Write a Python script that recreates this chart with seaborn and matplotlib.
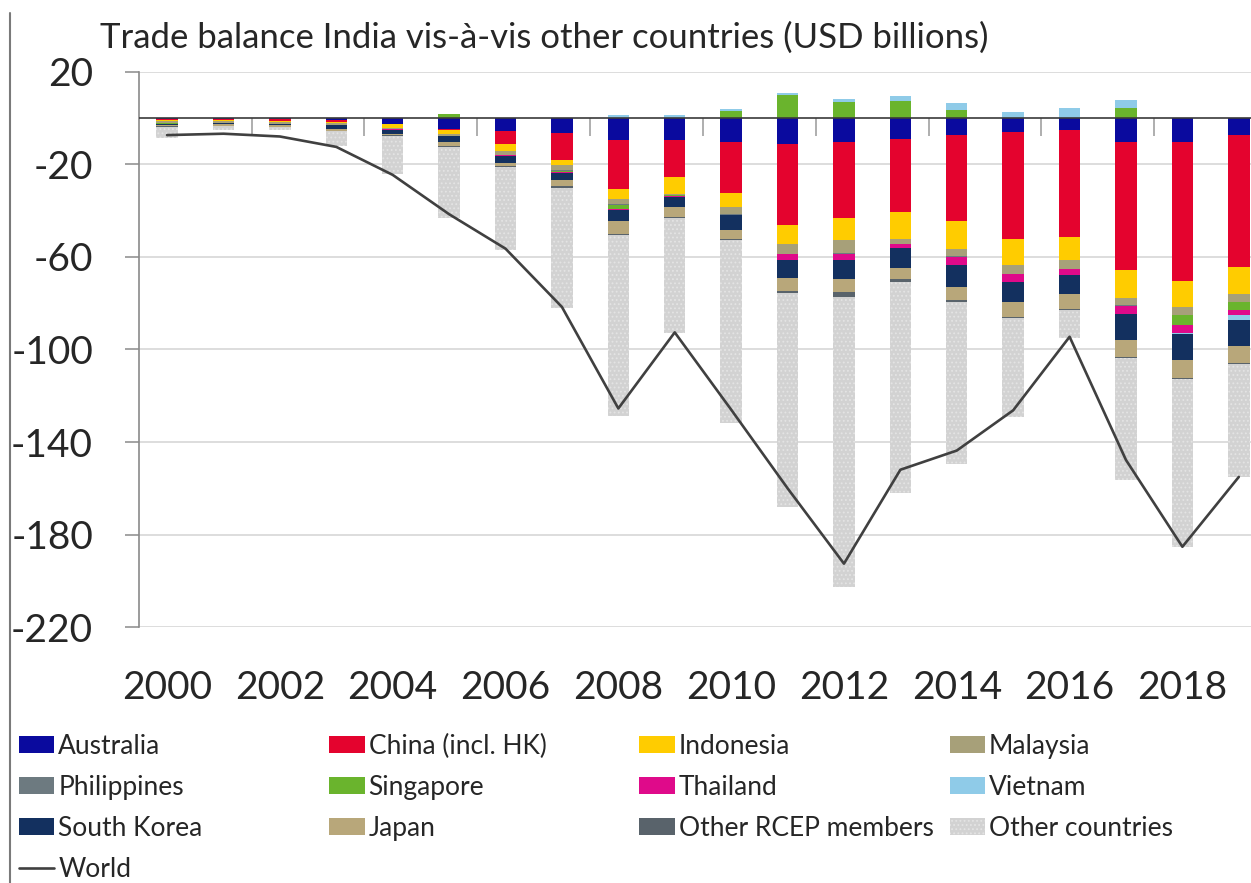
import numpy as np
import matplotlib
matplotlib.use("Agg")
import matplotlib.pyplot as plt
from matplotlib.patches import Patch
from matplotlib.lines import Line2D
import seaborn as sns

# Trade balance of India with partner countries, USD billions
years = list(range(2000, 2020))

australia = [-0.4, -0.3, -0.4, -0.8, -2.3, -4.5, -5.5, -6.6, -9.4, -9.4,
             -10.3, -11.0, -10.3, -8.8, -7.4, -5.9, -5.3, -10.3, -10.3, -7.4]
china = [-0.3, -0.5, -0.6, -0.8, -0.3, -0.4, -5.8, -11.6, -21.0, -16.0,
         -22.0, -35.3, -32.8, -31.7, -37.2, -46.2, -46.1, -55.2, -60.3, -57.0]
indonesia = [-0.5, -0.4, -0.5, -0.6, -1.6, -1.8, -2.9, -2.1, -4.4, -7.2,
             -6.1, -8.0, -9.7, -11.6, -11.8, -11.5, -10.1, -12.4, -11.0, -11.4]
malaysia = [-0.9, -0.9, -0.9, -0.8, -0.6, -0.8, -1.6, -2.2, -2.5, -0.5,
            -3.0, -4.3, -5.5, -2.1, -3.0, -3.6, -3.6, -2.9, -3.5, -3.5]
philippines = [0.0, 0.0, 0.0, 0.0, 0.0, -0.1, -0.1, -0.4, -0.3, -0.2,
               -0.3, -0.3, -0.3, -0.3, -0.8, -0.3, -0.3, -0.2, -0.2, -0.2]
singapore = [-0.3, 0.0, 0.0, 0.0, 0.0, 1.8, 0.0, -0.3, -1.5, -0.3,
             3.3, 10.0, 7.0, 7.4, 3.6, 0.0, 0.0, 4.3, -4.1, -3.4]
thailand = [-0.1, -0.1, -0.1, -0.1, -0.2, -0.3, -0.3, -0.4, -0.5, -0.3,
            -0.3, -2.2, -2.9, -1.4, -3.4, -3.3, -2.6, -3.6, -3.6, -2.2]
vietnam = [0.0, 0.0, 0.0, 0.0, 0.0, 0.2, 0.3, 0.3, 1.2, 1.5,
           0.5, 0.7, 1.5, 2.0, 2.9, 2.9, 4.3, 3.6, -0.3, -2.0]
south_korea = [-0.4, -0.5, -0.6, -1.7, -1.8, -2.2, -3.0, -2.9, -4.9, -4.5,
               -6.5, -7.9, -7.9, -8.8, -9.4, -8.7, -7.9, -11.5, -11.3, -11.5]
japan = [-0.6, -0.6, -0.6, -0.6, -0.5, -1.8, -1.5, -2.9, -5.5, -4.3,
         -3.6, -5.8, -5.8, -5.0, -5.8, -6.5, -6.5, -7.2, -7.9, -7.2]
other_rcep = [-0.1, -0.1, -0.1, -0.2, -0.3, -0.4, -0.4, -0.6, -0.6, -0.3,
              -0.6, -0.7, -2.3, -1.0, -0.5, -0.5, -0.5, -0.5, -0.4, -0.4]
other_countries = [-5.1, -1.8, -1.4, -6.4, -16.4, -30.7, -35.9, -52.0, -78.0, -50.0,
                   -78.9, -92.5, -125.1, -91.3, -70.2, -42.9, -12.1, -52.6, -72.4, -48.8]
world = [-7.3, -6.7, -7.9, -12.4, -24.5, -41.5, -56.4, -81.6, -125.5, -92.6,
         -126.0, -160.0, -192.6, -152.0, -143.7, -126.3, -94.5, -147.8, -185.3, -155.1]

series_names = ["Australia", "China (incl. HK)", "Indonesia", "Malaysia",
                "Philippines", "Singapore", "Thailand", "Vietnam",
                "South Korea", "Japan", "Other RCEP members", "Other countries"]
series_values = [australia, china, indonesia, malaysia, philippines, singapore,
                 thailand, vietnam, south_korea, japan, other_rcep, other_countries]
series_colors = ["#0a0a9e", "#e4032e", "#ffcc00", "#a7a079", "#6d7a80", "#6ab42d",
                 "#df0a8a", "#8fcbe8", "#13305f", "#b8a77a", "#59636b", "#d2d2d2"]
y_ticks = [20, -20, -60, -100, -140, -180, -220]
x_tick_years = years[::2]

sns.set_theme(style="white")
plt.rcParams["font.family"] = ["Lato", "DejaVu Sans"]
plt.rcParams["hatch.linewidth"] = 0.8

text_color = "#262626"
dots = dict(hatch="....", edgecolor="#e4e4e4")

fig = plt.figure(figsize=(12.51, 8.83), dpi=100)
ax = fig.add_axes([0.111, 0.2899, 0.9018, 0.6286])

# stacked bars: positive parts stack upward, negative parts downward
pos_base = np.zeros(len(years))
neg_base = np.zeros(len(years))
for name, vals, color in zip(series_names, series_values, series_colors):
    v = np.asarray(vals, dtype=float)
    bottom = np.where(v >= 0, pos_base, neg_base)
    extra = dots if name == "Other countries" else {}
    ax.bar(years, v, width=0.38, bottom=bottom, color=color, linewidth=0,
           zorder=2, **extra)
    pos_base += np.where(v > 0, v, 0)
    neg_base += np.where(v < 0, v, 0)

sns.lineplot(x=years, y=world, ax=ax, color="#404040", linewidth=1.9,
             zorder=4, legend=False)
ax.axhline(0, color="#3a3a3a", linewidth=1.2, zorder=3)

ax.set_xlim(1999.5, 2019.5)
ax.set_ylim(-220, 20)
ax.set_yticks(y_ticks)
ax.set_yticklabels([str(t) for t in y_ticks])
ax.set_xticks(x_tick_years)
ax.set_xticklabels([str(y) for y in x_tick_years])
ax.set_xlabel("")
ax.set_ylabel("")
ax.set_axisbelow(True)
ax.yaxis.grid(True, color="#dadada", linewidth=1.3)
ax.xaxis.grid(False)
for side in ("top", "right", "bottom"):
    ax.spines[side].set_visible(False)
ax.spines["left"].set_color("#8a8a8a")
ax.spines["left"].set_linewidth(1.2)
ax.tick_params(axis="y", which="major", left=True, direction="out", length=10,
               width=1.1, color="#8a8a8a", pad=23, labelsize=28,
               labelcolor=text_color)
ax.tick_params(axis="x", which="major", bottom=True, length=0, pad=31,
               labelsize=28, labelcolor=text_color)

# category separators hanging below the zero line
y0, y1 = ax.get_ylim()
sec = ax.secondary_xaxis((0 - y0) / (y1 - y0))
sec.set_xticks(np.arange(2001.5, 2019, 2))
sec.tick_params(direction="in", length=13, width=1.3, color="#a8a8a8",
                labeltop=False, labelbottom=False)
for sp in sec.spines.values():
    sp.set_visible(False)

fig.text(0.08, 0.9456, "Trade balance India vis-à-vis other countries (USD billions)",
         fontsize=25, color=text_color, ha="left", va="baseline")

# legend laid out as four columns
handles = {}
for name, color in zip(series_names, series_colors):
    extra = dict(dots, linewidth=0) if name == "Other countries" else dict(linewidth=0)
    handles[name] = Patch(facecolor=color, **extra)
handles["World"] = Line2D([], [], color="#404040", linewidth=1.9)

columns = [
    ["Australia", "Philippines", "South Korea", "World"],
    ["China (incl. HK)", "Singapore", "Japan"],
    ["Indonesia", "Thailand", "Other RCEP members"],
    ["Malaysia", "Vietnam", "Other countries"],
]
col_x = [0.015, 0.263, 0.511, 0.759]
for x, names in zip(col_x, columns):
    fig.legend([handles[n] for n in names], names, loc="upper left",
               bbox_to_anchor=(x, 0.169), bbox_transform=fig.transFigure,
               frameon=False, borderpad=0, borderaxespad=0,
               handlelength=1.35, handleheight=0.62, handletextpad=0.15,
               labelspacing=0.61, fontsize=19, labelcolor=text_color)

fig.add_artist(Line2D([0.008, 0.008], [0.0, 0.985], transform=fig.transFigure,
                      color="#7a7a7a", linewidth=1.5))

fig.savefig("out.png", dpi=100)
